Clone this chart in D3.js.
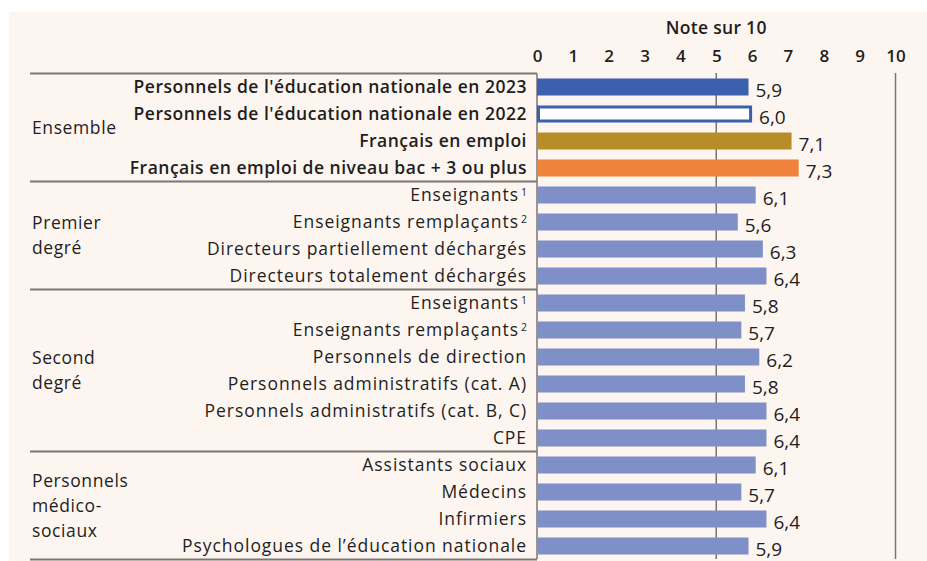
<!DOCTYPE html>
<html><head><meta charset="utf-8">
<script src="https://cdn.jsdelivr.net/npm/d3@7"></script>
<style>
html,body{margin:0;padding:0;background:#fff;}
svg text{font-family:"Open Sans",sans-serif;}
</style></head>
<body><svg id="c" width="927" height="561"></svg>
<script>
const categories = [
  "Personnels de l'éducation nationale en 2023",
  "Personnels de l'éducation nationale en 2022",
  "Français en emploi",
  "Français en emploi de niveau bac + 3 ou plus",
  "Enseignants", "Enseignants remplaçants", "Directeurs partiellement déchargés", "Directeurs totalement déchargés",
  "Enseignants", "Enseignants remplaçants", "Personnels de direction", "Personnels administratifs (cat. A)", "Personnels administratifs (cat. B, C)", "CPE",
  "Assistants sociaux", "Médecins", "Infirmiers", "Psychologues de l’éducation nationale"
];
const superscripts = ["", "", "", "", "1", "2", "", "", "1", "2", "", "", "", "", "", "", "", ""];
const values = [5.9, 6.0, 7.1, 7.3, 6.1, 5.6, 6.3, 6.4, 5.8, 5.7, 6.2, 5.8, 6.4, 6.4, 6.1, 5.7, 6.4, 5.9];
const series = ["2023", "2022", "emploi", "bac3", "g", "g", "g", "g", "g", "g", "g", "g", "g", "g", "g", "g", "g", "g"];
const groups = [
  {lines: ["Ensemble"], start: 0, end: 3},
  {lines: ["Premier", "degré"], start: 4, end: 7},
  {lines: ["Second", "degré"], start: 8, end: 13},
  {lines: ["Personnels", "médico-", "sociaux"], start: 14, end: 17}
];
const ticks = [0, 1, 2, 3, 4, 5, 6, 7, 8, 9, 10];
const gridTicks = [5, 10];
const axisTitle = "Note sur 10";

const colors = {"2023": "#3a60ae", "2022": "#ffffff", "emploi": "#b88c28", "bac3": "#f0833b", "g": "#7f8fc8"};

const svg = d3.select("#c");
svg.append("rect").attr("x", 9).attr("y", 12).attr("width", 918).attr("height", 549).attr("fill", "#fdf5f0");

const x = d3.scaleLinear().domain([0, 10]).range([537, 895.5]);
const y = d3.scaleBand().domain(d3.range(categories.length)).range([73.5, 559.5]).paddingInner(0.37).paddingOuter(0.185);
const lineColor = "#7a7673";
const ink = "#1e1e1e";

// axis title
svg.append("text").attr("x", x(5)).attr("y", 28).attr("text-anchor", "middle").attr("dy", "0.35em")
  .attr("font-size", 17.5).attr("font-weight", 600).attr("letter-spacing", 0.3).attr("fill", ink).text(axisTitle);

// top axis tick labels
const axis = d3.axisTop(x).tickValues(ticks).tickSize(0).tickPadding(0).tickFormat(d3.format("d"));
const gAxis = svg.append("g").attr("transform", "translate(0,62)").call(axis);
gAxis.select(".domain").remove();
gAxis.selectAll("text").attr("font-size", 17).attr("font-weight", 600).attr("fill", ink)
  .attr("font-family", "Open Sans, sans-serif");

// gridlines
svg.selectAll(".grid").data(gridTicks).join("line")
  .attr("x1", d => x(d)).attr("x2", d => x(d)).attr("y1", 73).attr("y2", 559)
  .attr("stroke", lineColor).attr("stroke-width", 1.5);
// left vertical axis line
svg.append("line").attr("x1", x(0)).attr("x2", x(0)).attr("y1", 73.5).attr("y2", 559)
  .attr("stroke", lineColor).attr("stroke-width", 1.5);

// group separator lines
const sepY = [y(0) - (y.step() - y.bandwidth()) / 2];
groups.forEach(g => sepY.push(y(g.end) + y.bandwidth() + (y.step() - y.bandwidth()) / 2));
svg.selectAll(".sep").data(sepY).join("line")
  .attr("x1", 30).attr("x2", x(0)).attr("y1", d => d).attr("y2", d => d)
  .attr("stroke", lineColor).attr("stroke-width", 2);

// bars
const idx = d3.range(categories.length);
svg.selectAll(".bar").data(idx).join("rect")
  .attr("x", i => series[i] === "2022" ? x(0) + 1.5 : x(0))
  .attr("y", i => series[i] === "2022" ? y(i) + 1.5 : y(i))
  .attr("width", i => series[i] === "2022" ? x(values[i]) - x(0) - 3 : x(values[i]) - x(0))
  .attr("height", i => series[i] === "2022" ? y.bandwidth() - 3 : y.bandwidth())
  .attr("fill", i => colors[series[i]])
  .attr("stroke", i => series[i] === "2022" ? colors["2023"] : "none")
  .attr("stroke-width", 3);

// value labels
svg.selectAll(".val").data(idx).join("text")
  .attr("x", i => x(values[i]) + 7)
  .attr("y", i => y(i) + y.bandwidth() / 2 + 3)
  .attr("dy", "0.35em")
  .attr("font-size", 19).attr("fill", ink)
  .text(i => d3.format(".1f")(values[i]).replace(".", ","));

// category labels
const lab = svg.selectAll(".cat").data(idx).join("text")
  .attr("x", 527)
  .attr("y", i => y(i) + y.bandwidth() / 2)
  .attr("dy", "0.35em")
  .attr("text-anchor", "end")
  .attr("font-size", 17.5)
  .attr("font-weight", i => i < 4 ? 600 : 400)
  .attr("letter-spacing", i => i < 4 ? 0.5 : 0.95)
  .attr("fill", ink);
lab.append("tspan").text(i => categories[i]);
lab.filter(i => superscripts[i]).append("tspan").attr("dx", 2).attr("dy", "-0.45em").attr("font-size", 10.5).attr("letter-spacing", 0).text(i => superscripts[i]);

// group labels
groups.forEach(g => {
  const cy = (y(g.start) + y(g.end) + y.bandwidth()) / 2;
  const n = g.lines.length, lh = 25;
  g.lines.forEach((t, k) => {
    svg.append("text").attr("x", 32).attr("y", cy + (k - (n - 1) / 2) * lh).attr("dy", "0.35em")
      .attr("font-size", 17.5).attr("letter-spacing", 0.6).attr("fill", ink).text(t);
  });
});
</script></body></html>
